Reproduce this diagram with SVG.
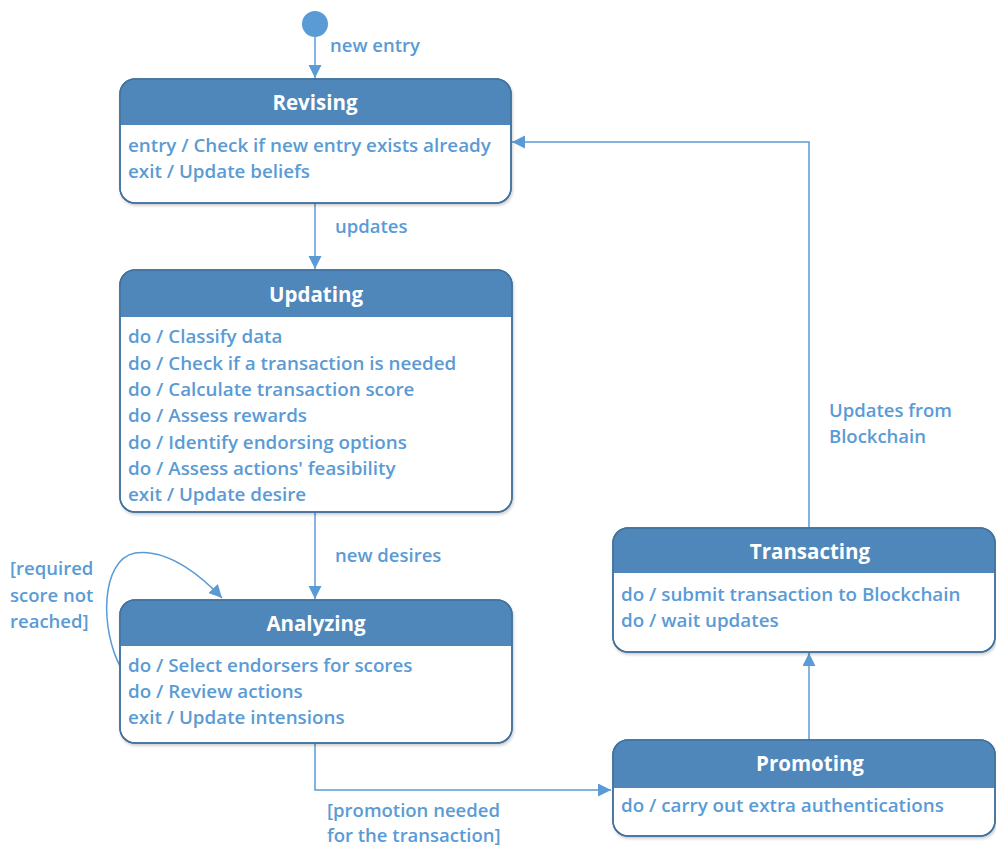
<svg xmlns="http://www.w3.org/2000/svg" width="996" height="846" viewBox="0 0 996 846">
<defs>
<marker id="arr" markerWidth="14" markerHeight="14" refX="13" refY="6.5" orient="auto" markerUnits="userSpaceOnUse">
<path d="M0,0 L13,6.5 L0,13 Z" fill="#5B9BD5"/>
</marker>
<filter id="sh" x="-5%" y="-5%" width="110%" height="115%">
<feDropShadow dx="1" dy="2" stdDeviation="1.5" flood-color="#000" flood-opacity="0.2"/>
</filter>
</defs>
<style>
.box{fill:#fff;stroke:#41719C;stroke-width:1.5}
.hd{fill:#4F87BA}
.ttl{font-family:"Open Sans","Liberation Sans",sans-serif;font-weight:700;font-size:20.5px;fill:#fff;text-anchor:middle}
.t{font-family:"Open Sans","Liberation Sans",sans-serif;font-weight:600;font-size:18.8px;fill:#5B9BD5}
.lbl{font-family:"Open Sans","Liberation Sans",sans-serif;font-weight:600;font-size:18.5px;fill:#5B9BD5}
.c{fill:none;stroke:#5B9BD5;stroke-width:1.5}
</style>
<rect width="996" height="846" fill="#fff"/>

<g id="connectors">
<path class="c" d="M315,37 L315,78" marker-end="url(#arr)"/>
<path class="c" d="M315,203 L315,269" marker-end="url(#arr)"/>
<path class="c" d="M315,512 L315,599" marker-end="url(#arr)"/>
<path class="c" d="M121,668 C100,630 100,560 135,553 C170,548 205,580 222,598" marker-end="url(#arr)"/>
<path class="c" d="M315,743 L315,790 L611,790" marker-end="url(#arr)"/>
<path class="c" d="M809,740 L809,653" marker-end="url(#arr)"/>
<path class="c" d="M809,528 L809,142 L512,142" marker-end="url(#arr)"/>
<text class="lbl" x="330" y="52">new entry</text>
<text class="lbl" x="335" y="233">updates</text>
<text class="lbl" x="335" y="562">new desires</text>
<text class="lbl" x="10" y="575">[required</text>
<text class="lbl" x="10" y="602">score not</text>
<text class="lbl" x="10" y="628">reached]</text>
<text class="lbl" x="327" y="817">[promotion needed</text>
<text class="lbl" x="327" y="842">for the transaction]</text>
<text class="lbl" x="829" y="417">Updates from</text>
<text class="lbl" x="829" y="443">Blockchain</text>
</g>

<g id="initial">
<circle cx="315" cy="24" r="13" fill="#5B9BD5"/>
</g>

<g id="revising">
<rect class="box" x="120" y="79" width="391" height="124" rx="15" filter="url(#sh)"/>
<path class="hd" d="M120,125 L120,94 A15,15 0 0 1 135,79 L496,79 A15,15 0 0 1 511,94 L511,125 Z"/>
<rect x="120" y="79" width="391" height="124" rx="15" fill="none" stroke="#41719C" stroke-width="1.5"/>
<text class="ttl" x="315" y="110">Revising</text>
<text class="t" x="128" y="152">entry / Check if new entry exists already</text>
<text class="t" x="128" y="178">exit / Update beliefs</text>
</g>

<g id="updating">
<rect class="box" x="120" y="270" width="392" height="242" rx="15" filter="url(#sh)"/>
<path class="hd" d="M120,317 L120,285 A15,15 0 0 1 135,270 L497,270 A15,15 0 0 1 512,285 L512,317 Z"/>
<rect x="120" y="270" width="392" height="242" rx="15" fill="none" stroke="#41719C" stroke-width="1.5"/>
<text class="ttl" x="316" y="302">Updating</text>
<text class="t" x="128" y="343">do / Classify data</text>
<text class="t" x="128" y="370">do / Check if a transaction is needed</text>
<text class="t" x="128" y="396">do / Calculate transaction score</text>
<text class="t" x="128" y="422">do / Assess rewards</text>
<text class="t" x="128" y="449">do / Identify endorsing options</text>
<text class="t" x="128" y="475">do / Assess actions' feasibility</text>
<text class="t" x="128" y="501">exit / Update desire</text>
</g>

<g id="analyzing">
<rect class="box" x="120" y="600" width="392" height="143" rx="15" filter="url(#sh)"/>
<path class="hd" d="M120,646 L120,615 A15,15 0 0 1 135,600 L497,600 A15,15 0 0 1 512,615 L512,646 Z"/>
<rect x="120" y="600" width="392" height="143" rx="15" fill="none" stroke="#41719C" stroke-width="1.5"/>
<text class="ttl" x="316" y="631">Analyzing</text>
<text class="t" x="128" y="672">do / Select endorsers for scores</text>
<text class="t" x="128" y="698">do / Review actions</text>
<text class="t" x="128" y="724">exit / Update intensions</text>
</g>

<g id="transacting">
<rect class="box" x="613" y="528" width="382" height="124" rx="15" filter="url(#sh)"/>
<path class="hd" d="M613,573 L613,543 A15,15 0 0 1 628,528 L980,528 A15,15 0 0 1 995,543 L995,573 Z"/>
<rect x="613" y="528" width="382" height="124" rx="15" fill="none" stroke="#41719C" stroke-width="1.5"/>
<text class="ttl" x="810" y="559">Transacting</text>
<text class="t" x="621" y="601">do / submit transaction to Blockchain</text>
<text class="t" x="621" y="627">do / wait updates</text>
</g>

<g id="promoting">
<rect class="box" x="613" y="740" width="382" height="96" rx="15" filter="url(#sh)"/>
<path class="hd" d="M613,788 L613,755 A15,15 0 0 1 628,740 L980,740 A15,15 0 0 1 995,755 L995,788 Z"/>
<rect x="613" y="740" width="382" height="96" rx="15" fill="none" stroke="#41719C" stroke-width="1.5"/>
<text class="ttl" x="810" y="771">Promoting</text>
<text class="t" x="621" y="812">do / carry out extra authentications</text>
</g>
</svg>
